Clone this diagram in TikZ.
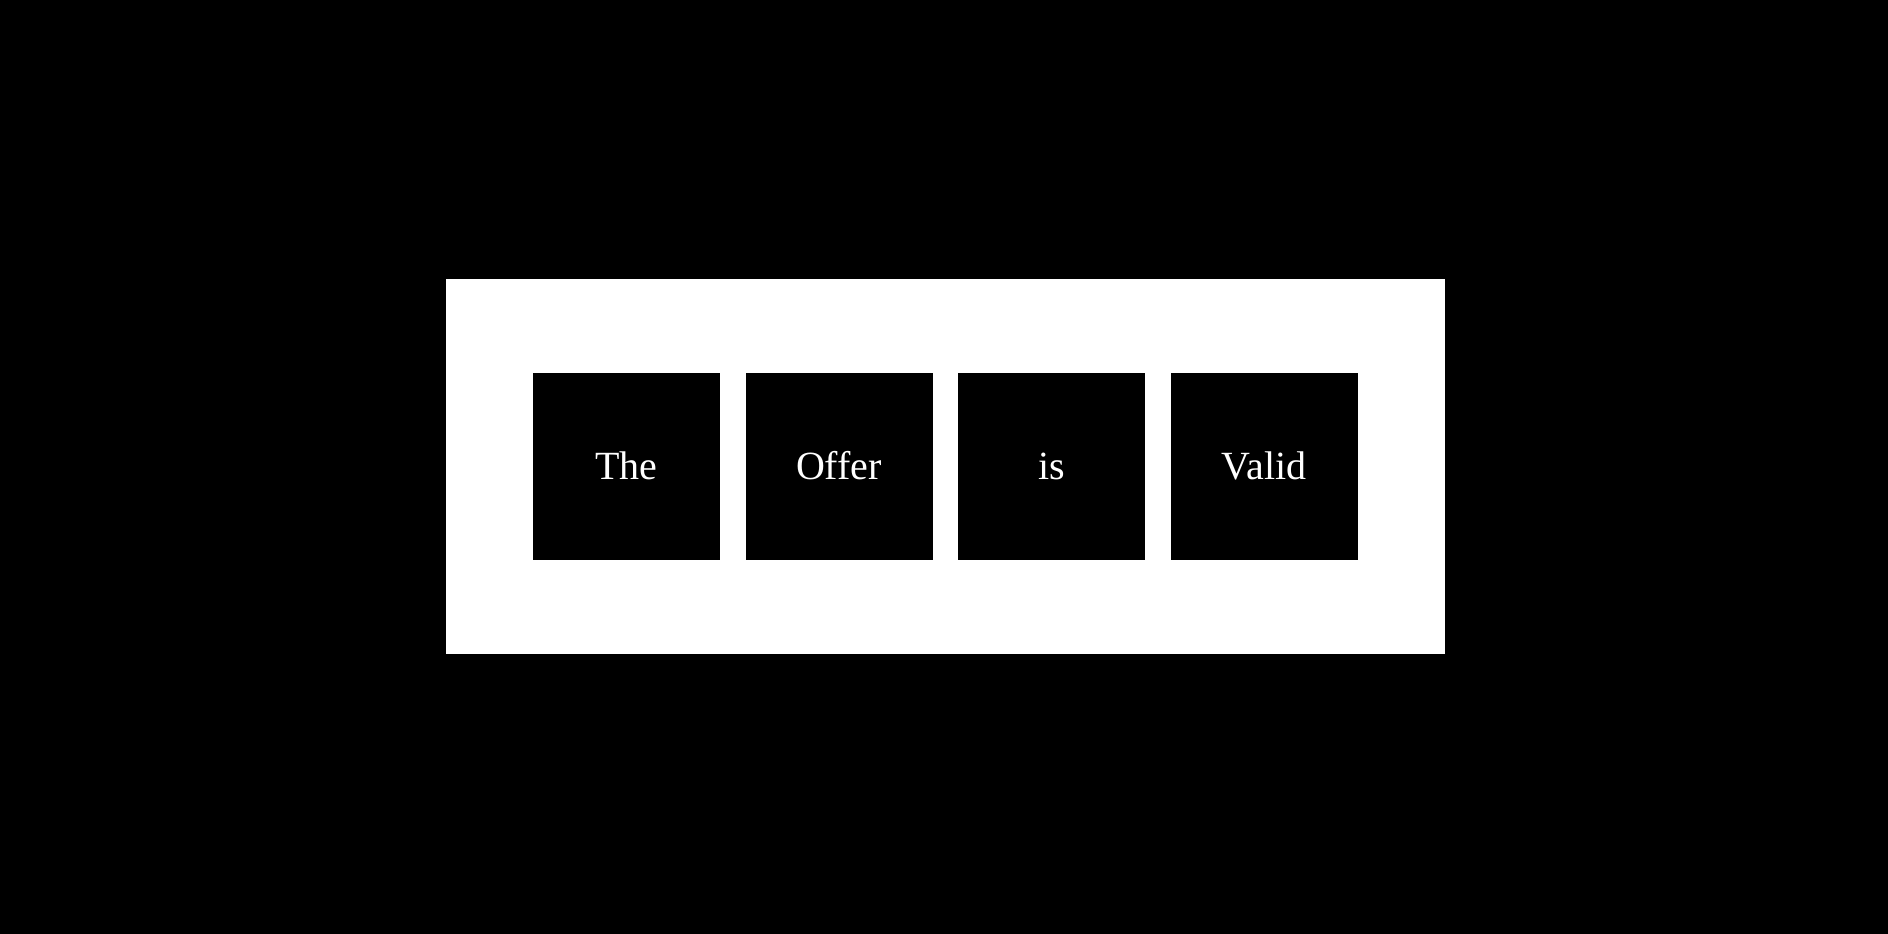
\documentclass[tikz,border=0pt]{standalone}
\usepackage{fontspec}
\setmainfont{Liberation Serif}
\begin{document}
\begin{tikzpicture}[x=1pt,y=-1pt,
  panel/.style={fill=white,draw=none,minimum width=999pt,minimum height=375pt,inner sep=0pt},
  wordbox/.style={fill=black,draw=none,minimum width=187pt,minimum height=187pt,inner sep=0pt,
    text=white,font=\fontsize{40}{48}\selectfont,text height=27.3pt,text depth=0pt}]
  \fill[black] (0,0) rectangle (1888,934);
  \useasboundingbox (0,0) rectangle (1888,934);
  \node[panel] (panel) at (945.5,466.5) {};
  \node[wordbox] (w1) at (626.5,466) {The};
  \node[wordbox] (w2) at (839,466) {Offer};
  \node[wordbox] (w3) at (1051.5,466) {is};
  \node[wordbox] (w4) at (1264,466) {Valid};
\end{tikzpicture}
\end{document}
